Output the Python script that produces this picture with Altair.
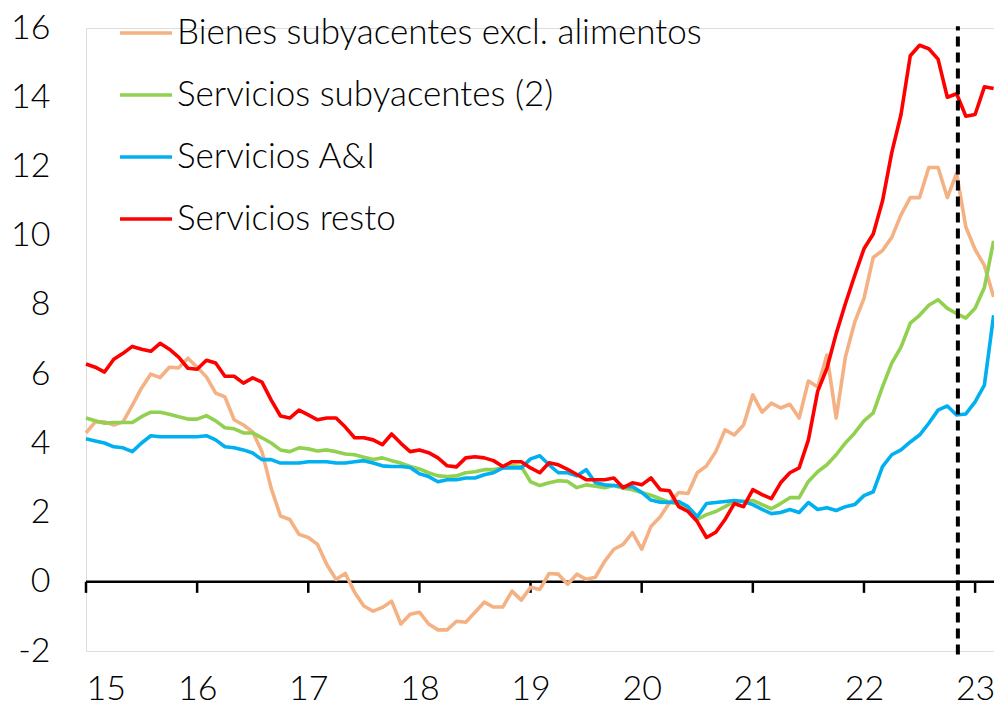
import altair as alt
import pandas as pd

# Monthly data, Jan 2015 .. Mar 2023 (99 months); x in "year" units (15 = Jan 2015)
bienes = [4.3, 4.62, 4.62, 4.53, 4.62, 5.1, 5.6, 6.0, 5.9, 6.2, 6.18, 6.46,
          6.2, 5.92, 5.45, 5.34, 4.68, 4.53, 4.33, 3.76, 2.7, 1.9, 1.8, 1.37,
          1.28, 1.08, 0.5, 0.07, 0.24, -0.3, -0.7, -0.85, -0.74, -0.56, -1.22, -0.94,
          -0.88, -1.22, -1.39, -1.39, -1.14, -1.17, -0.88, -0.59, -0.73, -0.73, -0.27, -0.53,
          -0.16, -0.22, 0.24, 0.22, -0.07, 0.22, 0.07, 0.13, 0.59, 0.94, 1.08, 1.42,
          0.94, 1.6, 1.88, 2.28, 2.58, 2.55, 3.15, 3.35, 3.76, 4.39, 4.24, 4.53,
          5.4, 4.9, 5.16, 5.02, 5.13, 4.73, 5.8, 5.63, 6.55, 4.73, 6.5, 7.5,
          8.19, 9.37, 9.57, 9.95, 10.6, 11.1, 11.1, 11.97, 11.97, 11.1, 11.8, 10.25,
          9.6, 9.14, 8.23]
serv_sub = [4.73, 4.65, 4.58, 4.6, 4.6, 4.6, 4.77, 4.9, 4.9, 4.84, 4.77, 4.7,
            4.7, 4.8, 4.65, 4.45, 4.42, 4.3, 4.3, 4.16, 4.01, 3.81, 3.76, 3.87,
            3.84, 3.78, 3.81, 3.76, 3.69, 3.67, 3.6, 3.53, 3.58, 3.5, 3.43, 3.33,
            3.26, 3.15, 3.06, 3.04, 3.06, 3.15, 3.18, 3.24, 3.24, 3.29, 3.35, 3.33,
            2.89, 2.78, 2.86, 2.92, 2.9, 2.72, 2.8, 2.76, 2.72, 2.78, 2.7, 2.66,
            2.58, 2.5, 2.4, 2.3, 2.25, 2.09, 1.8, 1.94, 2.03, 2.17, 2.32, 2.32,
            2.35, 2.23, 2.11, 2.26, 2.43, 2.43, 2.9, 3.18, 3.38, 3.67, 4.01, 4.3,
            4.65, 4.88, 5.63, 6.32, 6.78, 7.47, 7.7, 7.99, 8.15, 7.9, 7.75, 7.62,
            7.9, 8.5, 9.85]
serv_ai = [4.13, 4.07, 4.01, 3.9, 3.87, 3.76, 4.01, 4.22, 4.19, 4.19, 4.19, 4.19,
           4.19, 4.22, 4.1, 3.9, 3.87, 3.81, 3.72, 3.53, 3.53, 3.43, 3.43, 3.43,
           3.47, 3.47, 3.47, 3.43, 3.43, 3.47, 3.5, 3.43, 3.35, 3.33, 3.33, 3.3,
           3.12, 3.04, 2.89, 2.95, 2.95, 3.0, 3.0, 3.09, 3.15, 3.29, 3.29, 3.29,
           3.55, 3.64, 3.38, 3.15, 3.15, 3.06, 3.24, 2.86, 2.8, 2.78, 2.75, 2.75,
           2.58, 2.36, 2.3, 2.29, 2.32, 2.17, 1.88, 2.26, 2.29, 2.32, 2.35, 2.32,
           2.23, 2.09, 1.97, 2.0, 2.09, 2.0, 2.29, 2.09, 2.14, 2.06, 2.17, 2.23,
           2.49, 2.6, 3.33, 3.67, 3.81, 4.04, 4.24, 4.58, 4.96, 5.08, 4.82, 4.85,
           5.2, 5.68, 7.7]
serv_resto = [6.29, 6.2, 6.06, 6.43, 6.6, 6.8, 6.72, 6.66, 6.89, 6.72, 6.49, 6.17,
              6.14, 6.4, 6.32, 5.94, 5.94, 5.74, 5.89, 5.77, 5.25, 4.79, 4.73, 4.96,
              4.82, 4.68, 4.73, 4.73, 4.47, 4.16, 4.16, 4.1, 3.96, 4.27, 4.0, 3.76,
              3.81, 3.73, 3.58, 3.35, 3.32, 3.58, 3.61, 3.58, 3.5, 3.33, 3.47, 3.47,
              3.29, 3.15, 3.44, 3.38, 3.25, 3.1, 2.95, 2.95, 2.95, 3.0, 2.72, 2.86,
              2.8, 3.0, 2.66, 2.63, 2.17, 2.03, 1.74, 1.28, 1.43, 1.8, 2.26, 2.17,
              2.66, 2.52, 2.4, 2.86, 3.15, 3.29, 4.1, 5.5, 6.17, 7.17, 8.04, 8.85,
              9.62, 10.05, 11.0, 12.4, 13.5, 15.2, 15.5, 15.4, 15.1, 14.0, 14.1, 13.45,
              13.5, 14.3, 14.25]

series_names = ["Bienes subyacentes excl. alimentos", "Servicios subyacentes (2)",
                "Servicios A&I", "Servicios resto"]
series_colors = ["#F4B183", "#92D050", "#00B0F0", "#FF0000"]
year_ticks = [15, 16, 17, 18, 19, 20, 21, 22, 23]
y_ticks = [-2, 0, 2, 4, 6, 8, 10, 12, 14, 16]
cutoff = [22.845]

FONT = "Lato"
XMAX = 23.17

rows = []
for k, (name, vals) in enumerate(zip(series_names, [bienes, serv_sub, serv_ai, serv_resto])):
    for i, v in enumerate(vals):
        rows.append({"t": 15 + i / 12, "v": v, "serie": name, "order": k})
df = pd.DataFrame(rows)

xscale = alt.Scale(domain=[15, XMAX], nice=False, zero=False)
yscale = alt.Scale(domain=[-2, 16], nice=False, zero=False)

lines = alt.Chart(df).mark_line(strokeWidth=3.6, strokeJoin="round").encode(
    x=alt.X("t:Q", scale=xscale,
            axis=alt.Axis(values=year_ticks, domain=False, ticks=False, grid=False,
                          labelExpr="'' + datum.value", labelFontSize=34, labelFont=FONT,
                          labelFontWeight=300,
                          labelColor="black", labelPadding=21, title=None)),
    y=alt.Y("v:Q", scale=yscale,
            axis=alt.Axis(values=y_ticks, domain=False, ticks=False, grid=False,
                          labelExpr="'' + datum.value", labelFontSize=34, labelFont=FONT,
                          labelFontWeight=300,
                          labelColor="black", labelPadding=36, title=None)),
    color=alt.Color("serie:N",
                    scale=alt.Scale(domain=series_names, range=series_colors),
                    legend=alt.Legend(orient="none", legendX=32, legendY=-23, title=None,
                                      symbolType="stroke", symbolSize=2704,
                                      symbolStrokeWidth=3.6, labelFontSize=35,
                                      labelFont=FONT, labelFontWeight=300,
                                      labelColor="black", labelOffset=3,
                                      rowPadding=16, padding=0, labelLimit=1000)),
    order="order:Q",
    detail="serie:N",
)

axis_df = pd.DataFrame({"x0": [15], "x1": [XMAX], "y": [0]})
zero_line = alt.Chart(axis_df).mark_rule(color="black", strokeWidth=2.5).encode(
    x=alt.X("x0:Q", scale=xscale), x2="x1:Q", y=alt.Y("y:Q", scale=yscale))

tick_df = pd.DataFrame({"x": year_ticks, "y0": [0] * len(year_ticks), "y1": [-0.32] * len(year_ticks)})
ticks = alt.Chart(tick_df).mark_rule(color="black", strokeWidth=2.5).encode(
    x=alt.X("x:Q", scale=xscale), y=alt.Y("y0:Q", scale=yscale), y2="y1:Q")

cut_df = pd.DataFrame({"x": cutoff, "y0": [-2.1], "y1": [16.05]})
cut = alt.Chart(cut_df).mark_rule(color="black", strokeWidth=4, strokeDash=[10, 6]).encode(
    x=alt.X("x:Q", scale=xscale), y=alt.Y("y0:Q", scale=yscale), y2="y1:Q")

chart = alt.layer(zero_line, ticks, lines, cut).properties(
    width=908, height=623,
    autosize=alt.AutoSizeParams(type="none"),
    padding={"left": 78, "top": 20, "right": 0, "bottom": 56},
).configure_view(stroke=None).configure(font=FONT)

chart.save("out.html", embed_options={"renderer": "svg", "actions": False})
